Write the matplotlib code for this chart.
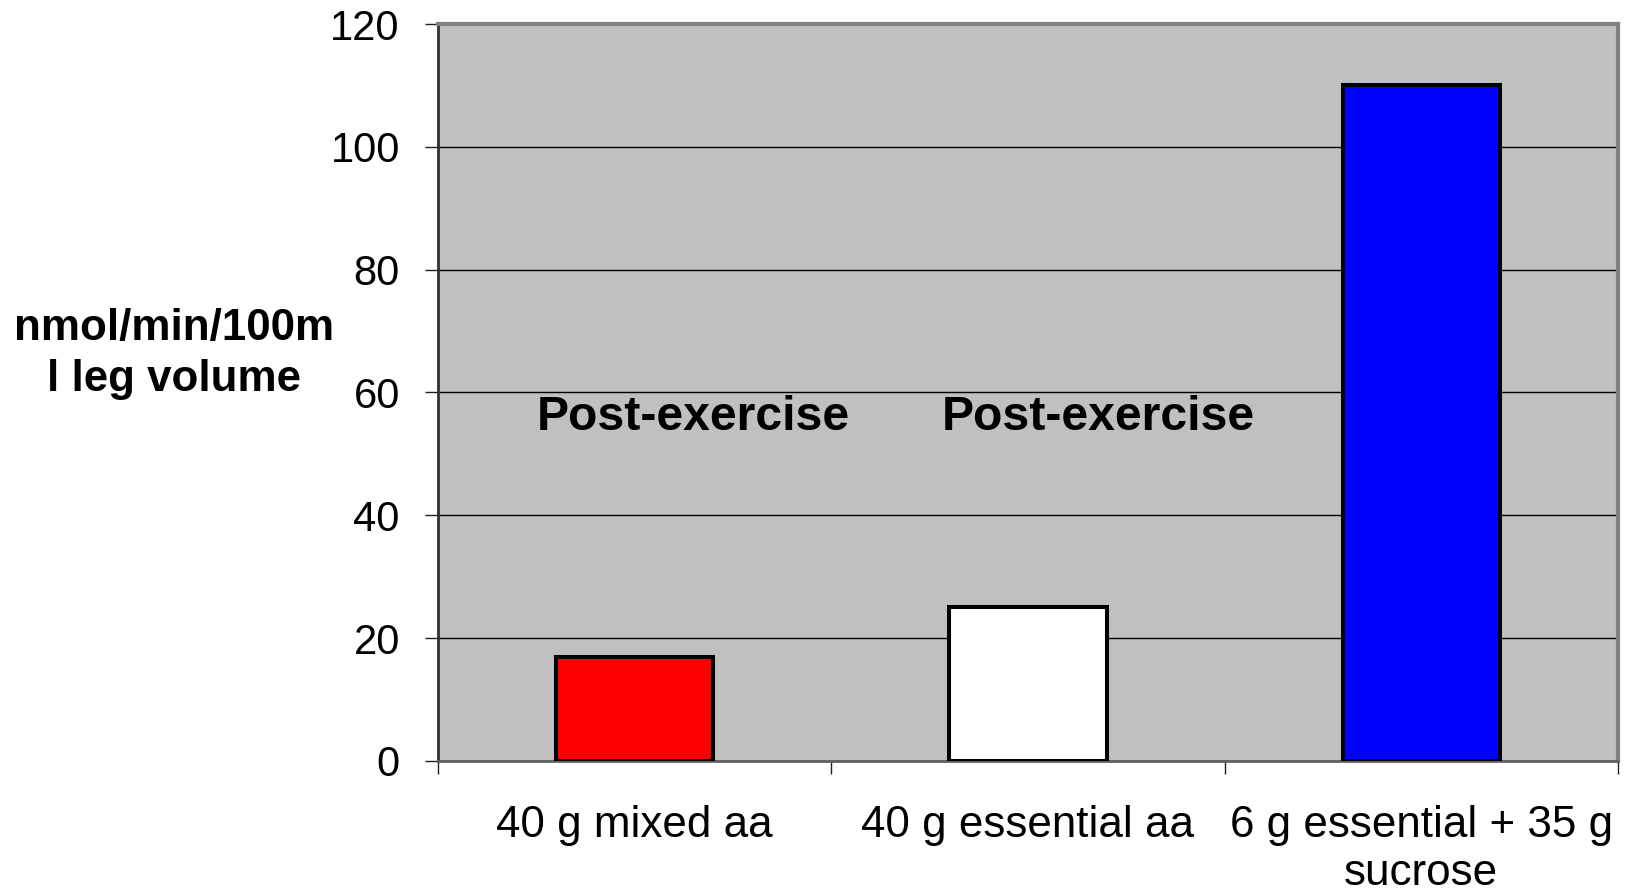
import matplotlib.pyplot as plt
from matplotlib.ticker import FixedLocator

plt.rcParams['font.family'] = ['Liberation Sans', 'DejaVu Sans']

# Bar data
categories = ['40 g mixed aa', '40 g essential aa', '6 g essential + 35 g\nsucrose']
values = [17, 25, 110]
bar_colors = ['#FF0000', '#FFFFFF', '#0000FF']

# Annotations above the first two bars
note_text = 'Post-exercise'
note_x = [0.15, 1.18]
note_y = 56

fig = plt.figure(figsize=(16.3, 8.96), dpi=100)
ax = fig.add_axes([0.2687, 0.1507, 0.7239, 0.8225])
ax.set_facecolor('#C0C0C0')

x = list(range(len(categories)))
ax.bar(x, values, width=0.4, color=bar_colors, edgecolor='black', linewidth=2.9, zorder=3)

ax.set_xlim(-0.5, len(categories) - 0.5)
ax.set_ylim(0, 120)
ax.set_yticks(range(0, 121, 20))
ax.yaxis.grid(True, color='black', linewidth=1.0)
ax.set_axisbelow(True)

# category labels centered, tick marks between categories
ax.set_xticks(x)
ax.set_xticklabels(categories, fontsize=31.7, linespacing=1.22)
ax.xaxis.set_minor_locator(FixedLocator([-0.5, 0.5, 1.5, 2.5]))
ax.tick_params(axis='x', which='major', length=0, pad=32)
ax.tick_params(axis='x', which='minor', length=9.5, width=1, color='#202020')
ax.tick_params(axis='y', length=9.5, width=1, color='#202020', labelsize=30, pad=18)

for side, col, lw in [('top', '#808080', 3), ('right', '#808080', 3),
                      ('left', '#303030', 2), ('bottom', '#606060', 2)]:
    ax.spines[side].set_color(col)
    ax.spines[side].set_linewidth(lw)

for nx in note_x:
    ax.text(nx, note_y, note_text, fontsize=34.7, fontweight='bold',
            ha='center', va='center', zorder=4)

fig.text(0.1065, 0.605, 'nmol/min/100m\nl leg volume', fontsize=31.6,
         fontweight='bold', ha='center', va='center', linespacing=1.3)

fig.savefig('out.png', dpi=100)
